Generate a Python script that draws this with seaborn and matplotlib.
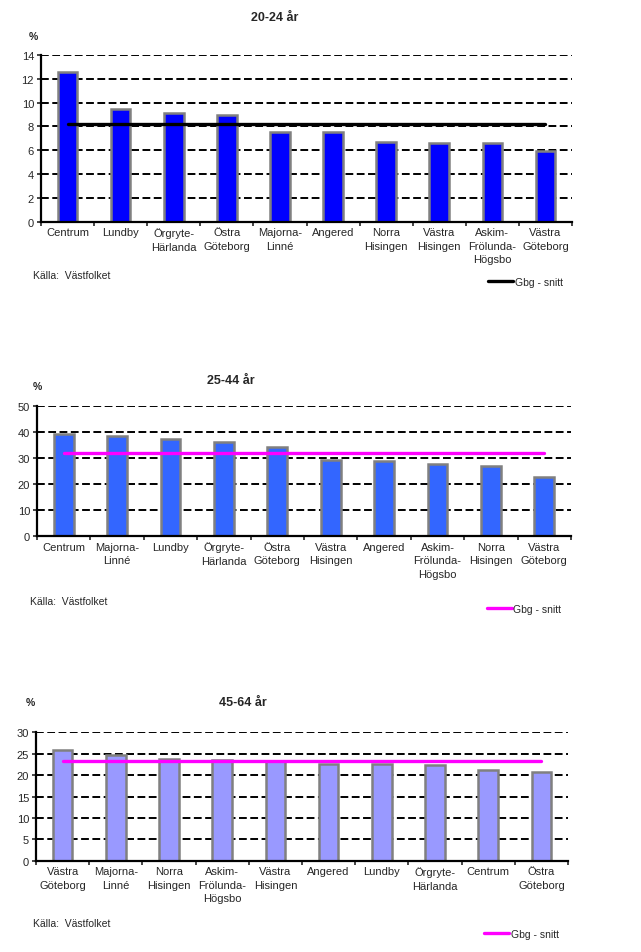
import numpy as np
import pandas as pd
import seaborn as sns
import matplotlib.pyplot as plt

# data per age group (share in %)
omr_20_24 = ['Centrum', 'Lundby', 'Örgryte-\nHärlanda', 'Östra\nGöteborg', 'Majorna-\nLinné',
             'Angered', 'Norra\nHisingen', 'Västra\nHisingen', 'Askim-\nFrölunda-\nHögsbo', 'Västra\nGöteborg']
andel_20_24 = [12.6, 9.5, 9.1, 9.0, 7.5, 7.5, 6.7, 6.6, 6.6, 5.9]
snitt_20_24 = 8.2

omr_25_44 = ['Centrum', 'Majorna-\nLinné', 'Lundby', 'Örgryte-\nHärlanda', 'Östra\nGöteborg',
             'Västra\nHisingen', 'Angered', 'Askim-\nFrölunda-\nHögsbo', 'Norra\nHisingen', 'Västra\nGöteborg']
andel_25_44 = [39.0, 38.2, 37.1, 36.2, 34.0, 29.0, 28.7, 27.5, 26.7, 22.5]
snitt_25_44 = 31.8

omr_45_64 = ['Västra\nGöteborg', 'Majorna-\nLinné', 'Norra\nHisingen', 'Askim-\nFrölunda-\nHögsbo',
             'Västra\nHisingen', 'Angered', 'Lundby', 'Örgryte-\nHärlanda', 'Centrum', 'Östra\nGöteborg']
andel_45_64 = [25.9, 24.8, 23.8, 23.6, 23.3, 22.7, 22.7, 22.4, 21.3, 20.8]
snitt_45_64 = 23.2

sns.set_style('white')
plt.rcParams['font.family'] = ['Liberation Sans', 'DejaVu Sans']

fig = plt.figure(figsize=(6.41, 9.53), dpi=100)

# panel settings: data, colours, axes rect, title/percent/source/legend positions (pixels)
paneler = [
    dict(cats=omr_20_24, vals=andel_20_24, snitt=snitt_20_24, titel='20-24 år',
         farg='#0000FF', linje='black', rect=[41, 56, 572, 222.7], ymax=14, steg=2,
         tpos=(275, 18), ppos=(33, 37), kpos=(33, 276), leg_y=283),
    dict(cats=omr_25_44, vals=andel_25_44, snitt=snitt_25_44, titel='25-44 år',
         farg='#3366FF', linje='#FF00FF', rect=[37, 406.7, 571, 537], ymax=50, steg=10,
         tpos=(231, 381), ppos=(37, 387), kpos=(30, 602), leg_y=610),
    dict(cats=omr_45_64, vals=andel_45_64, snitt=snitt_45_64, titel='45-64 år',
         farg='#9999FF', linje='#FF00FF', rect=[36, 733.3, 568, 861.7], ymax=30, steg=5,
         tpos=(243, 703), ppos=(30, 703), kpos=(33, 924), leg_y=935),
]

W, H = 641, 953
for p in paneler:
    x0, y0, x1, y1 = p['rect']
    ax = fig.add_axes([x0 / W, 1 - y1 / H, (x1 - x0) / W, (y1 - y0) / H])
    df = pd.DataFrame({'omrade': p['cats'], 'andel': p['vals']})
    sns.barplot(data=df, x='omrade', y='andel', color=p['farg'], saturation=1,
                edgecolor='#808080', linewidth=1.8, width=0.37, ax=ax, zorder=2)
    n = len(p['cats'])
    ax.plot([0, n - 1], [p['snitt'], p['snitt']], color=p['linje'], lw=2.4,
            zorder=3, label='Gbg - snitt')

    ax.set_xlim(-0.5, n - 0.5)
    ax.set_ylim(0, p['ymax'])
    ax.set_yticks(np.arange(0, p['ymax'] + 1, p['steg']))
    for yv in np.arange(p['steg'], p['ymax'] + 1, p['steg']):
        ax.axhline(yv, color='black', lw=1.4, ls=(0, (4, 1.8)), zorder=1)
    ax.set_xlabel('')
    ax.set_ylabel('')
    ax.tick_params(axis='x', length=0, pad=4, labelsize=8)
    ax.tick_params(axis='y', length=3, width=1.2, pad=2, labelsize=8, left=True)
    for lbl in ax.get_xticklabels():
        lbl.set_linespacing(1.45)
    ax.set_xticks(np.arange(-0.5, n + 0.5, 1), minor=True)
    ax.tick_params(axis='x', which='minor', length=3, width=1.2, bottom=True)
    for s in ['top', 'right']:
        ax.spines[s].set_visible(False)
    for s in ['left', 'bottom']:
        ax.spines[s].set_color('black')
        ax.spines[s].set_linewidth(1.6)
        ax.spines[s].set_zorder(4)

    fig.text(p['tpos'][0] / W, 1 - p['tpos'][1] / H, p['titel'], ha='center', va='center',
             fontsize=9, fontweight='bold')
    fig.text(p['ppos'][0] / W, 1 - p['ppos'][1] / H, '%', ha='center', va='center',
             fontsize=7.5, fontweight='bold')
    fig.text(p['kpos'][0] / W, 1 - p['kpos'][1] / H, 'Källa:  Västfolket', ha='left', va='center',
             fontsize=7.5)
    ax.legend(loc='center right', bbox_to_anchor=(0.99, (y1 - p['leg_y']) / (y1 - y0)),
              frameon=False, handlelength=2.4, handletextpad=0.1, borderaxespad=0,
              fontsize=7.5)

fig.savefig('out.png', dpi=100)
